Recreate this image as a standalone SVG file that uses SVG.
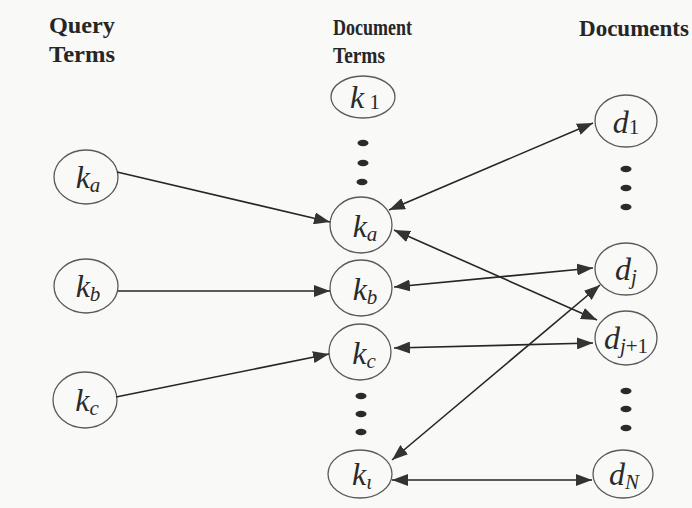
<svg xmlns="http://www.w3.org/2000/svg" width="692" height="508" viewBox="0 0 692 508">
  <style>
    .hdr { font-family: "Liberation Serif", "Times New Roman", serif; font-weight: bold; fill: #262626; }
    .node ellipse { fill: none; stroke: #5a5a5a; stroke-width: 1.3; }
    .lbl { font-family: "Liberation Serif", "Times New Roman", serif; font-style: italic; font-size: 32px; fill: #2a2a2a; text-anchor: middle; }
    .sub { font-size: 21px; }
    .up { font-style: normal; }
    .dot { fill: #2a2a2a; }
    .edge { fill: none; stroke: #262626; stroke-width: 1.6; }
    .one { marker-end: url(#head); }
    .two { marker-start: url(#head); marker-end: url(#head); }
  </style>
  <defs>
    <marker id="head" markerUnits="userSpaceOnUse" markerWidth="17" markerHeight="12" refX="16" refY="6" orient="auto-start-reverse">
      <path d="M0,0 L16,6 L0,12 z" fill="#333"/>
    </marker>
  </defs>

  <rect width="692" height="508" fill="#f9f9f7"/>

  <!-- column headings -->
  <g id="headings">
    <text class="hdr" x="49" y="33" font-size="24" textLength="66" lengthAdjust="spacingAndGlyphs">Query</text>
    <text class="hdr" x="49" y="62" font-size="24" textLength="66" lengthAdjust="spacingAndGlyphs">Terms</text>
    <text class="hdr" x="333" y="35" font-size="23" textLength="79" lengthAdjust="spacingAndGlyphs">Document</text>
    <text class="hdr" x="333" y="63" font-size="23" textLength="52" lengthAdjust="spacingAndGlyphs">Terms</text>
    <text class="hdr" x="579" y="36" font-size="23" textLength="110" lengthAdjust="spacingAndGlyphs">Documents</text>
  </g>

  <!-- query terms -->
  <g id="q-ka" class="node">
    <ellipse cx="86" cy="177" rx="32" ry="27"/>
    <text class="lbl" x="88" y="188">k<tspan class="sub" dy="4">a</tspan></text>
  </g>
  <g id="q-kb" class="node">
    <ellipse cx="86" cy="286" rx="32" ry="27"/>
    <text class="lbl" x="88" y="297">k<tspan class="sub" dy="4">b</tspan></text>
  </g>
  <g id="q-kc" class="node">
    <ellipse cx="85" cy="400" rx="32" ry="28"/>
    <text class="lbl" x="87" y="411">k<tspan class="sub" dy="4">c</tspan></text>
  </g>

  <!-- document terms -->
  <g id="t-k1" class="node">
    <ellipse cx="363" cy="97" rx="32" ry="21"/>
    <text class="lbl" x="365" y="108">k<tspan class="sub up" dy="1"> 1</tspan></text>
  </g>
  <g id="t-dots-top">
    <ellipse class="dot" cx="363" cy="143" rx="5.5" ry="3.3"/>
    <ellipse class="dot" cx="363" cy="163" rx="5.5" ry="3.3"/>
    <ellipse class="dot" cx="362" cy="182" rx="5.5" ry="3.3"/>
  </g>
  <g id="t-ka" class="node">
    <ellipse cx="361" cy="225" rx="31" ry="28"/>
    <text class="lbl" x="365" y="237">k<tspan class="sub" dy="4">a</tspan></text>
  </g>
  <g id="t-kb" class="node">
    <ellipse cx="361" cy="288" rx="31" ry="28"/>
    <text class="lbl" x="365" y="300">k<tspan class="sub" dy="4">b</tspan></text>
  </g>
  <g id="t-kc" class="node">
    <ellipse cx="360" cy="352" rx="31" ry="28"/>
    <text class="lbl" x="364" y="364">k<tspan class="sub" dy="4">c</tspan></text>
  </g>
  <g id="t-dots-bottom">
    <ellipse class="dot" cx="361" cy="396" rx="5.5" ry="3.3"/>
    <ellipse class="dot" cx="361" cy="414" rx="5.5" ry="3.3"/>
    <ellipse class="dot" cx="361" cy="432" rx="5.5" ry="3.3"/>
  </g>
  <g id="t-kt" class="node">
    <ellipse cx="360" cy="474" rx="32" ry="24"/>
    <text class="lbl" x="362" y="485">k<tspan class="sub" dy="4">ι</tspan></text>
  </g>

  <!-- documents -->
  <g id="d-1" class="node">
    <ellipse cx="626" cy="121" rx="31" ry="26"/>
    <text class="lbl" x="626" y="133">d<tspan class="sub up" dy="1">1</tspan></text>
  </g>
  <g id="d-dots-top">
    <ellipse class="dot" cx="626" cy="169" rx="5.5" ry="3.3"/>
    <ellipse class="dot" cx="626" cy="188" rx="5.5" ry="3.3"/>
    <ellipse class="dot" cx="626" cy="207" rx="5.5" ry="3.3"/>
  </g>
  <g id="d-j" class="node">
    <ellipse cx="626" cy="269" rx="31" ry="26"/>
    <text class="lbl" x="626" y="280">d<tspan class="sub" dy="4">j</tspan></text>
  </g>
  <g id="d-j1" class="node">
    <ellipse cx="626" cy="338" rx="31" ry="27"/>
    <text class="lbl" x="626" y="349">d<tspan class="sub" dy="4">j</tspan><tspan class="sub up">+1</tspan></text>
  </g>
  <g id="d-dots-bottom">
    <ellipse class="dot" cx="626" cy="391" rx="5.5" ry="3.3"/>
    <ellipse class="dot" cx="626" cy="409" rx="5.5" ry="3.3"/>
    <ellipse class="dot" cx="626" cy="428" rx="5.5" ry="3.3"/>
  </g>
  <g id="d-N" class="node">
    <ellipse cx="623" cy="474" rx="30" ry="24"/>
    <text class="lbl" x="624" y="485">d<tspan class="sub" dy="4">N</tspan></text>
  </g>

  <!-- connectors -->
  <g id="connectors">
    <path class="edge one" d="M117,172 L330,222"/>
    <path class="edge one" d="M118,291 L330,291"/>
    <path class="edge one" d="M116,397 L329,354"/>
    <path class="edge two" d="M389,210 L593,123"/>
    <path class="edge two" d="M394,230 L597,320"/>
    <path class="edge two" d="M394,287 L593,268"/>
    <path class="edge two" d="M394,348 L593,343"/>
    <path class="edge two" d="M392,460 L600,285"/>
    <path class="edge two" d="M392,480 L592,480"/>
  </g>
</svg>
